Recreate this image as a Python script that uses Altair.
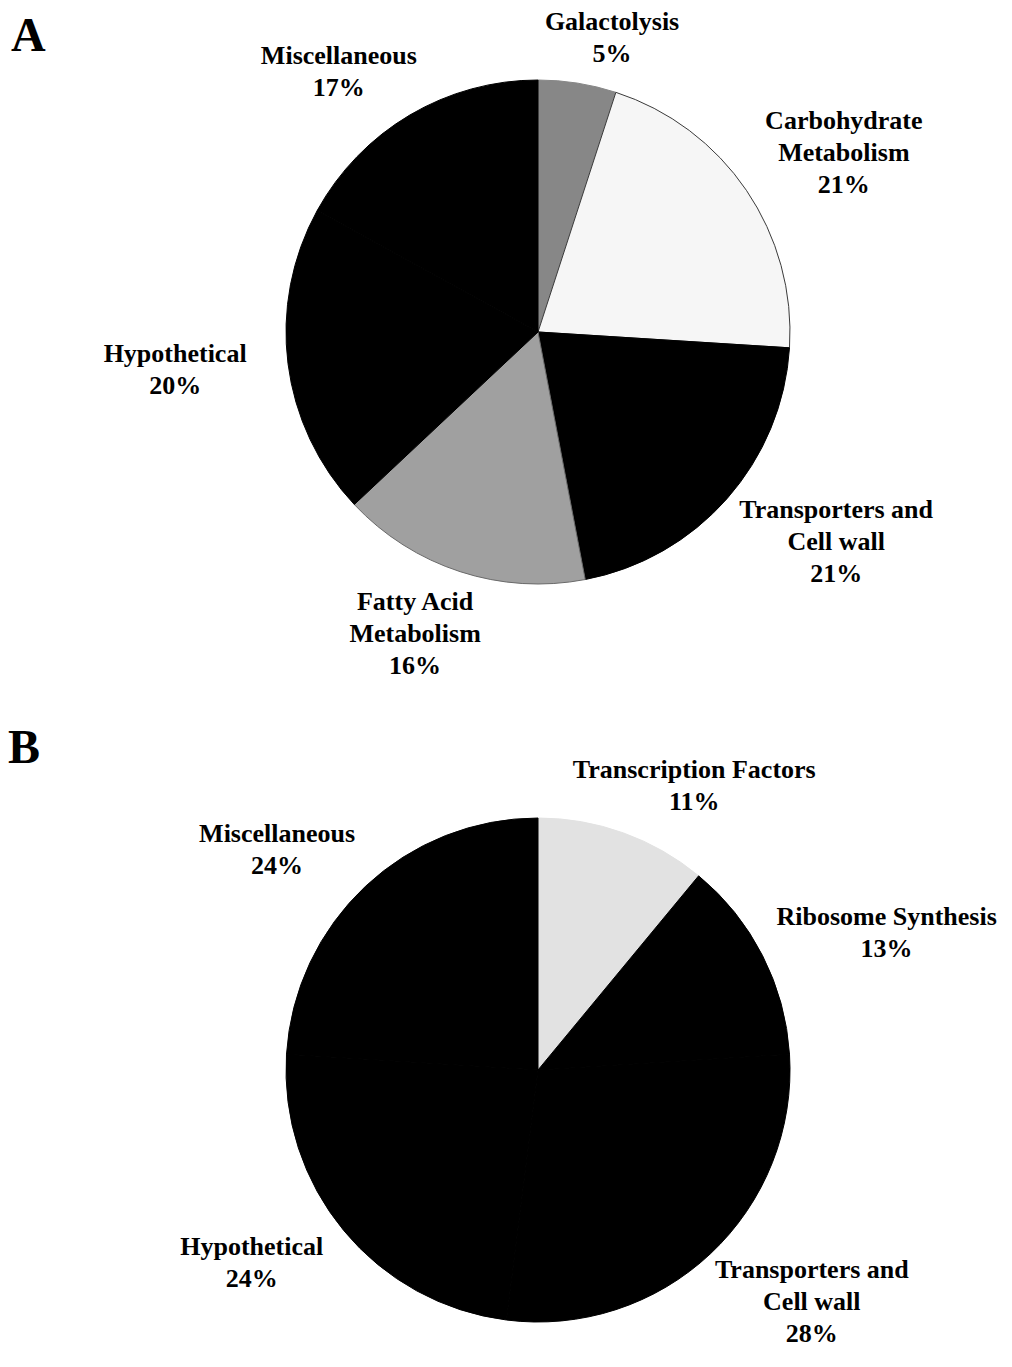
import math
import altair as alt
import pandas as pd

# ---------------- data ----------------
a_categories = ["Galactolysis", "Carbohydrate Metabolism", "Transporters and Cell wall",
                "Fatty Acid Metabolism", "Hypothetical", "Miscellaneous"]
a_label_text = ["Galactolysis", "Carbohydrate\nMetabolism", "Transporters and\nCell wall",
                "Fatty Acid\nMetabolism", "Hypothetical", "Miscellaneous"]
a_percent = [5, 21, 21, 16, 20, 17]

b_categories = ["Transcription Factors", "Ribosome Synthesis", "Transporters and Cell wall",
                "Hypothetical", "Miscellaneous"]
b_label_text = ["Transcription Factors", "Ribosome Synthesis", "Transporters and\nCell wall",
                "Hypothetical", "Miscellaneous"]
b_percent = [11, 13, 28, 24, 24]

panel_letters = ["A", "B"]

color_domain = ["Galactolysis", "Carbohydrate Metabolism", "Fatty Acid Metabolism",
                "Transcription Factors", "Transporters and Cell wall", "Hypothetical",
                "Miscellaneous", "Ribosome Synthesis"]
fill_range = ["#878787", "#f6f6f6", "#a0a0a0", "#e2e2e2",
              "#000000", "#000000", "#000000", "#000000"]
stroke_range = ["#878787", "#3a3a3a", "#6a6a6a", "#e2e2e2",
                "#000000", "#000000", "#000000", "#000000"]

# ---------------- layout ----------------
W, H = 996, 1346
CX = 530
CY_A, CY_B = 324, 1062
R = 252
FONT = "Liberation Serif"
FS, LH = 26, 32
RHO = 270   # distance of the label anchor ring from the centre
KX = 20     # extra horizontal push away from the pie
CW = 12.6   # approx. character width for label box estimation


def slice_table(cats, pct):
    return pd.DataFrame({"category": cats, "percent": pct, "order": list(range(len(cats)))})


def label_table(cats, texts, pct, cy):
    """Outside-end label placement around the slice mid-angle, kept inside the view."""
    total = float(sum(pct))
    rows = []
    cum = 0.0
    for cat, txt, v in zip(cats, texts, pct):
        mid = 2 * math.pi * (cum + v / 2.0) / total
        cum += v
        lines = txt.split("\n") + [f"{v}%"]
        n = len(lines)
        w = max(len(s) for s in lines) * CW
        h = n * LH
        s, c = math.sin(mid), math.cos(mid)
        bx = (RHO + w / 2.0) * s + math.copysign(KX, s)
        by = -(RHO + h / 2.0) * c
        half = (n - 1) * LH / 2.0
        top = cy + by - half - 0.5 * FS
        bottom = cy + by + half + 0.4 * FS
        if top < 1:
            by += 1 - top
        if bottom > H - 1:
            by -= bottom - (H - 1)
        right = CX + bx + w / 2.0
        left = CX + bx - w / 2.0
        if right > W - 4:
            bx -= right - (W - 4)
        if left < 2:
            bx += 2 - left
        ax, ay = bx, by - half
        theta = math.atan2(ax, -ay) % (2 * math.pi)
        rows.append({"category": cat, "label": "\n".join(lines),
                     "theta": theta, "radius": math.hypot(ax, ay)})
    return pd.DataFrame(rows)


fill_scale = alt.Scale(domain=color_domain, range=fill_range)
stroke_scale = alt.Scale(domain=color_domain, range=stroke_range)


def pie_layers(cats, texts, pct, cy):
    arcs = alt.Chart(slice_table(cats, pct)).mark_arc(outerRadius=R, strokeWidth=1).encode(
        theta=alt.Theta("percent:Q", stack=True),
        order=alt.Order("order:Q"),
        color=alt.Color("category:N", scale=fill_scale, legend=None),
        stroke=alt.Stroke("category:N", scale=stroke_scale, legend=None),
        x=alt.value(CX),
        y=alt.value(cy),
    )
    text = alt.Chart(label_table(cats, texts, pct, cy)).mark_text(
        font=FONT, fontSize=FS, fontWeight="bold", lineBreak="\n", lineHeight=LH,
        align="center", baseline="middle", color="#000000",
    ).encode(
        theta=alt.Theta("theta:Q", scale=None, stack=False),
        radius=alt.Radius("radius:Q", scale=None),
        text="label:N",
        x=alt.value(CX),
        y=alt.value(cy),
    )
    return arcs, text


arcs_a, text_a = pie_layers(a_categories, a_label_text, a_percent, CY_A)
arcs_b, text_b = pie_layers(b_categories, b_label_text, b_percent, CY_B)

letter_style = dict(font=FONT, fontSize=48, fontWeight="bold", align="left",
                    baseline="alphabetic", color="#000000")
letter_a = alt.Chart(pd.DataFrame({"letter": [panel_letters[0]]})).mark_text(**letter_style).encode(
    text="letter:N", x=alt.value(3), y=alt.value(43))
letter_b = alt.Chart(pd.DataFrame({"letter": [panel_letters[1]]})).mark_text(**letter_style).encode(
    text="letter:N", x=alt.value(0), y=alt.value(755))

chart = alt.layer(arcs_a, arcs_b, text_a, text_b, letter_a, letter_b).resolve_scale(
    theta="independent", radius="independent"
).properties(
    width=W, height=H, autosize=alt.AutoSizeParams(type="none"), padding=0,
    background="#ffffff",
).configure_view(stroke=None)

chart.save("out.html", embed_options={"renderer": "svg", "actions": False})
